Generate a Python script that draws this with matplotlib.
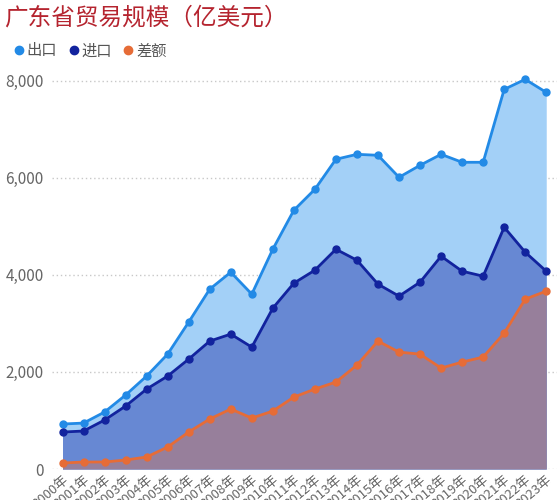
import matplotlib
matplotlib.use('Agg')
import matplotlib.pyplot as plt
from matplotlib.lines import Line2D
from matplotlib.ticker import FuncFormatter

plt.rcParams['font.family'] = ['Noto Sans CJK SC', 'DejaVu Sans']

# data (亿美元)
years = [f'{y}年' for y in range(2000, 2024)]
exports = [926, 946, 1173, 1523, 1914, 2366, 3025, 3704, 4053, 3601, 4527, 5329,
           5761, 6379, 6481, 6461, 6008, 6255, 6481, 6317, 6317, 7819, 8025, 7757]
imports = [761, 782, 1008, 1296, 1646, 1914, 2263, 2634, 2778, 2510, 3313, 3827,
           4095, 4526, 4300, 3807, 3560, 3848, 4383, 4074, 3971, 4979, 4465, 4074]
balance = [123, 144, 144, 185, 247, 453, 761, 1029, 1235, 1049, 1193, 1481,
           1646, 1790, 2140, 2634, 2407, 2366, 2078, 2202, 2305, 2798, 3498, 3663]

x = list(range(len(years)))

fig = plt.figure(figsize=(5.59, 5.0), dpi=100)
ax = fig.add_axes([0.093, 0.062, 0.903, 0.806])

# overlapping areas
ax.fill_between(x, exports, color='#a3d0f7', zorder=1, linewidth=0)
ax.fill_between(x, imports, color='#6788d3', zorder=2, linewidth=0)
ax.fill_between(x, balance, color='#977f9b', zorder=3, linewidth=0)

ax.plot(x, exports, color='#228ae6', lw=2, marker='o', ms=5, zorder=5)
ax.plot(x, imports, color='#12239e', lw=2, marker='o', ms=5, zorder=5)
ax.plot(x, balance, color='#e66c37', lw=2, marker='o', ms=5, zorder=5)

ax.set_xlim(-0.5, len(years) - 0.5)
ax.set_ylim(0, 8300)
ax.set_yticks([0, 2000, 4000, 6000, 8000])
ax.yaxis.set_major_formatter(FuncFormatter(lambda v, p: f'{int(v):,}'))
ax.grid(axis='y', linestyle=(0, (1, 2)), color='#c8c8c8', lw=1, zorder=0)
ax.set_axisbelow(True)

# x labels run off the bottom edge, as in the original
ax.set_xticks(x)
ax.set_xticklabels(years, rotation=40, ha='right', va='top',
                   rotation_mode='anchor', fontsize=9.5, color='#666666')
ax.tick_params(axis='y', labelsize=11, labelcolor='#666666', length=0, pad=6)
ax.tick_params(axis='x', length=0, pad=3)
for s in ax.spines.values():
    s.set_visible(False)

fig.text(0.008, 0.963, '广东省贸易规模（亿美元）', fontsize=17, color='#b5242f',
         va='center', ha='left')

handles = [Line2D([], [], marker='o', ls='', ms=6, color=c)
           for c in ['#228ae6', '#12239e', '#e66c37']]
fig.legend(handles, ['出口', '进口', '差额'], loc='center left',
           bbox_to_anchor=(-0.005, 0.898), ncol=3, frameon=False,
           handletextpad=0.0, columnspacing=0.6, handlelength=1.0,
           prop={'size': 11}, labelcolor='#555555')

plt.savefig('out.png', dpi=100)
